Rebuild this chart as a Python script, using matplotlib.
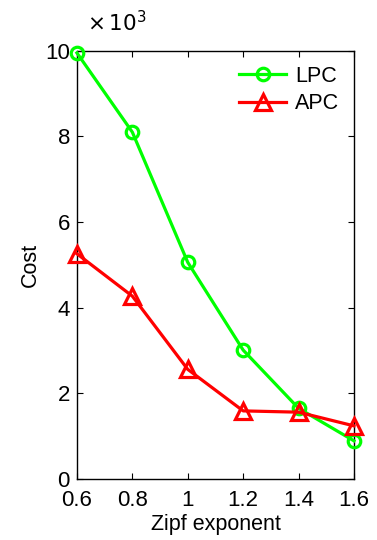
import matplotlib
matplotlib.use("Agg")
import matplotlib.pyplot as plt

plt.rcParams['font.family'] = ['Liberation Sans', 'DejaVu Sans']

# data (cost in units of 10^3)
zipf = [0.6, 0.8, 1.0, 1.2, 1.4, 1.6]
lpc = [9.95, 8.1, 5.06, 3.01, 1.65, 0.89]
apc = [5.26, 4.27, 2.56, 1.59, 1.56, 1.24]

fig = plt.figure(figsize=(3.77, 5.4), dpi=100)
ax = fig.add_axes([0.204, 0.113, 0.735, 0.793])

ax.plot(zipf, lpc, color='#00ff00', lw=2.3, marker='o', ms=9, mfc='none', mew=2.3,
        label='LPC', clip_on=False, zorder=3)
ax.plot(zipf, apc, color='#ff0000', lw=2.3, marker='^', ms=12, mfc='none', mew=2.3,
        label='APC', clip_on=False, zorder=3)

ax.set_xlim(0.6, 1.6)
ax.set_ylim(0, 10)
ax.set_xticks([0.6, 0.8, 1.0, 1.2, 1.4, 1.6])
ax.set_xticklabels(['0.6', '0.8', '1', '1.2', '1.4', '1.6'])
ax.set_yticks([0, 2, 4, 6, 8, 10])
ax.tick_params(direction='in', top=True, right=True, labelsize=16, length=4)
ax.tick_params(axis='x', pad=8)
ax.tick_params(axis='y', pad=5)
for s in ax.spines.values():
    s.set_linewidth(1.0)

ax.set_xlabel('Zipf exponent', fontsize=15.5, labelpad=2)
ax.set_ylabel('Cost', fontsize=15.5, labelpad=3)
ax.text(0.036, 1.035, r'$\times\,10^3$', transform=ax.transAxes, fontsize=15.5,
        ha='left', va='bottom', math_fontfamily='dejavusans')

ax.legend(loc='upper right', frameon=False, fontsize=15.5, handlelength=2.2,
          handletextpad=0.4, borderaxespad=0.3, labelspacing=0.3)

fig.savefig('out.png', dpi=100)
